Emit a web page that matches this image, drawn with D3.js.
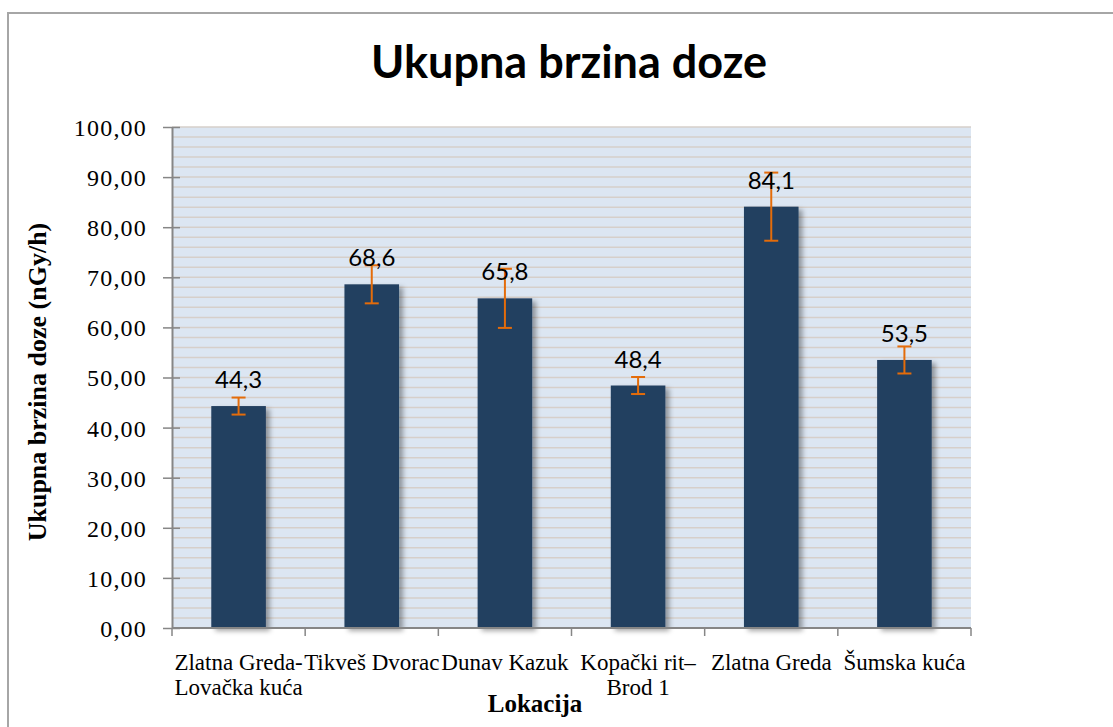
<!DOCTYPE html>
<meta charset="utf-8">
<style>
body { margin: 0; background: #fff; }
.tick-lbl { font-family: "Liberation Serif", "Times New Roman", serif; font-size: 23px; fill: #000; }
.y-lbl { font-family: "Liberation Serif", "Times New Roman", serif; font-size: 24px; letter-spacing: 1.2px; fill: #000; }
.axis-title { font-family: "Liberation Serif", "Times New Roman", serif; font-size: 25px; font-weight: bold; }
.val-lbl { font-family: Lato, "Open Sans", sans-serif; font-size: 24px; fill: #000; }
</style>
<body>
<script src="https://d3js.org/d3.v7.min.js"></script>
<script>
// data
var categories = [["Zlatna Greda-", "Lovačka kuća"], ["Tikveš Dvorac"], ["Dunav Kazuk"],
                  ["Kopački rit–", "Brod 1"], ["Zlatna Greda"], ["Šumska kuća"]];
var values = [44.3, 68.6, 65.8, 48.4, 84.1, 53.5];
var errors = [1.7, 3.8, 5.9, 1.7, 6.8, 2.7];
var yTicks = [0, 10, 20, 30, 40, 50, 60, 70, 80, 90, 100];

var W = 1113, H = 727;
var plot = {left: 172, right: 971, top: 127, bottom: 628};

var svg = d3.select("body").append("svg")
    .attr("width", W)
    .attr("height", H);

// drop shadow for bars
var defs = svg.append("defs");
var f = defs.append("filter").attr("id", "shadow")
    .attr("x", "-20%").attr("y", "-10%").attr("width", "150%").attr("height", "130%");
f.append("feDropShadow").attr("dx", 4).attr("dy", 3).attr("stdDeviation", 2.5)
    .attr("flood-color", "#000").attr("flood-opacity", 0.35);

// chart border
svg.append("rect")
    .attr("x", 8).attr("y", 13)
    .attr("width", W + 20).attr("height", H + 20)
    .attr("fill", "none").attr("stroke", "#a6a6a6").attr("stroke-width", 2);

var keys = categories.map(function(d, i) { return i; });
var x = d3.scaleBand().domain(keys).range([plot.left, plot.right]).padding(0);
var y = d3.scaleLinear().domain([0, 100]).range([plot.bottom, plot.top]);

// plot background
svg.append("rect")
    .attr("x", plot.left).attr("y", plot.top)
    .attr("width", plot.right - plot.left).attr("height", plot.bottom - plot.top)
    .attr("fill", "#dce6f2");

// gridlines every 2 units
var grid = d3.range(2, 101, 2);
svg.append("g").selectAll("line").data(grid).enter().append("line")
    .attr("x1", plot.left).attr("x2", plot.right)
    .attr("y1", function(d) { return y(d); })
    .attr("y2", function(d) { return y(d); })
    .attr("stroke", "#d6cfca").attr("stroke-width", 1.5);

// bars
var bw = x.bandwidth() * 0.41;
svg.append("g").selectAll("rect").data(values).enter().append("rect")
    .attr("x", function(d, i) { return x(i) + x.bandwidth() / 2 - bw / 2; })
    .attr("y", function(d) { return y(d); })
    .attr("width", bw)
    .attr("height", function(d) { return y(0) - y(d); })
    .attr("fill", "#243f60")
    .attr("filter", "url(#shadow)");

// y axis
var yAxis = svg.append("g")
    .attr("transform", "translate(" + plot.left + ",0)")
    .call(d3.axisLeft(y).tickValues(yTicks).tickSize(0).tickPadding(25)
          .tickFormat(function(d) { return d3.format(".2f")(d).replace(".", ","); }));
yAxis.select(".domain").attr("stroke", "#868686").attr("stroke-width", 2);
yAxis.selectAll(".tick text").attr("class", "y-lbl").attr("font-family", null).attr("font-size", null).attr("dy", "0.35em");
yAxis.selectAll(".tick").append("line")
    .attr("x1", -9).attr("x2", 8).attr("stroke", "#868686").attr("stroke-width", 1.5);

// x axis
var xg = svg.append("g");
xg.append("line")
    .attr("x1", plot.left).attr("x2", plot.right)
    .attr("y1", y(0)).attr("y2", y(0))
    .attr("stroke", "#868686").attr("stroke-width", 2);
var edges = keys.map(function(i) { return x(i); }).concat([plot.right]);
xg.selectAll(".xt").data(edges).enter().append("line")
    .attr("x1", function(d) { return d; }).attr("x2", function(d) { return d; })
    .attr("y1", y(0)).attr("y2", y(0) + 8)
    .attr("stroke", "#868686").attr("stroke-width", 1.5);
xg.selectAll(".xl").data(categories).enter().append("text")
    .attr("class", "tick-lbl")
    .attr("text-anchor", "middle")
    .attr("x", function(d, i) { return x(i) + x.bandwidth() / 2; })
    .attr("y", 670)
    .each(function(d) {
      var t = d3.select(this);
      d.forEach(function(line, j) {
        t.append("tspan")
          .attr("x", t.attr("x"))
          .attr("dy", j === 0 ? 0 : 25)
          .text(line);
      });
    });

// error bars
var eb = svg.append("g").attr("stroke", "#e46c0a").attr("stroke-width", 2);
values.forEach(function(v, i) {
  var cx = x(i) + x.bandwidth() / 2;
  eb.append("line").attr("x1", cx).attr("x2", cx)
    .attr("y1", y(v + errors[i])).attr("y2", y(v - errors[i]));
  [v + errors[i], v - errors[i]].forEach(function(e) {
    eb.append("line").attr("x1", cx - 7).attr("x2", cx + 7)
      .attr("y1", y(e)).attr("y2", y(e));
  });
});

// value labels
svg.append("g").selectAll("text").data(values).enter().append("text")
    .attr("class", "val-lbl")
    .attr("text-anchor", "middle")
    .attr("x", function(d, i) { return x(i) + x.bandwidth() / 2; })
    .attr("y", function(d) { return y(d) - 18; })
    .text(function(d) { return d3.format(".1f")(d).replace(".", ","); });

// titles
svg.append("text")
    .attr("x", 569).attr("y", 78)
    .attr("text-anchor", "middle")
    .style("font-family", "Lato, 'Open Sans', sans-serif")
    .style("font-weight", "bold")
    .style("font-size", "45px")
    .text("Ukupna brzina doze");

svg.append("text")
    .attr("class", "axis-title")
    .style("font-size", "26px")
    .attr("transform", "translate(46,382) rotate(-90)")
    .attr("text-anchor", "middle")
    .text("Ukupna brzina doze (nGy/h)");

svg.append("text")
    .attr("class", "axis-title")
    .attr("x", 535).attr("y", 712)
    .attr("text-anchor", "middle")
    .text("Lokacija");
</script>
</body>
